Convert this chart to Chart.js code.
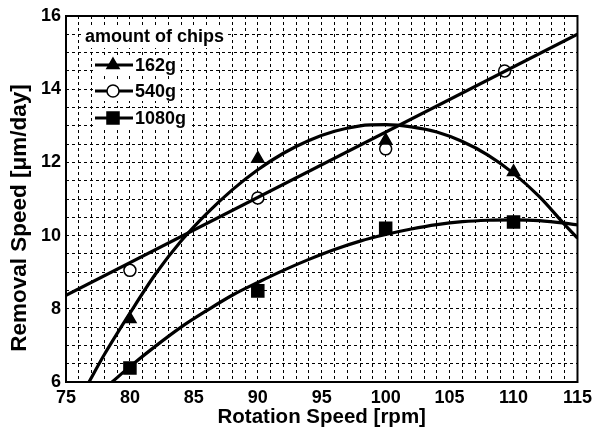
<!DOCTYPE html>
<html>
<head>
<meta charset="utf-8">
<script src="https://cdn.jsdelivr.net/npm/chart.js@4/dist/chart.umd.min.js"></script>
<style>
  html, body { margin: 0; padding: 0; background: #fff; }
  #chart { display: block; }
</style>
</head>
<body>
<canvas id="chart" width="597" height="430"></canvas>
<script>
// Datos
const legendTitle = 'amount of chips';
const seriesNames = ['162g', '540g', '1080g'];
const xTitle = 'Rotation Speed [rpm]';
const yTitle = 'Removal Speed [μm/day]';

const xTickLabels = [75, 80, 85, 90, 95, 100, 105, 110, 115];
const yTickLabels = [6, 8, 10, 12, 14, 16];

// puntos medidos
const speeds162 = [80, 90, 100, 110];
const values162 = [7.72, 12.1, 12.6, 11.74];
const speeds540 = [80, 90, 100, 109.3];
const values540 = [9.05, 11.03, 12.37, 14.5];
const speeds1080 = [80, 90, 100, 110];
const values1080 = [6.38, 8.49, 10.2, 10.37];

// curvas de ajuste
const fit162X = [76.8, 78, 80, 82, 84, 86, 88, 90, 92, 94, 96, 98, 100, 102, 104, 106, 108, 110, 112, 114, 115];
const fit162Y = [6.0, 6.75, 7.88, 8.95, 9.85, 10.6, 11.25, 11.8, 12.25, 12.6, 12.85, 13.0, 13.03, 12.97, 12.83, 12.57, 12.2, 11.7, 11.07, 10.3, 9.93];
const fit540X = [75, 115];
const fit540Y = [8.37, 15.5];
const fit1080X = [78.6, 80, 82, 84, 86, 88, 90, 92, 94, 96, 98, 100, 102, 104, 106, 108, 110, 112, 114, 115];
const fit1080Y = [6.0, 6.42, 6.98, 7.5, 7.95, 8.37, 8.72, 9.05, 9.35, 9.62, 9.85, 10.03, 10.18, 10.3, 10.38, 10.42, 10.43, 10.41, 10.34, 10.29];

const toPoints = (xs, ys) => xs.map((x, i) => ({ x: x, y: ys[i] }));

const FONT = '"Liberation Sans", Arial, sans-serif';

const markerStyles = [
    { pointStyle: 'triangle', radius: 7, fill: '#000' },
    { pointStyle: 'circle', radius: 6, fill: '#fff' },
    { pointStyle: 'rect', radius: 8.5, fill: '#000' }
];

function fitDataset(xs, ys) {
    return {
        data: toPoints(xs, ys),
        showLine: true,
        borderColor: '#000',
        borderWidth: 3.2,
        pointRadius: 0,
        cubicInterpolationMode: 'monotone',
        fill: false
    };
}

function markerDataset(xs, ys, idx) {
    const m = markerStyles[idx];
    return {
        label: seriesNames[idx],
        data: toPoints(xs, ys),
        showLine: false,
        pointStyle: m.pointStyle,
        pointRadius: m.radius,
        pointBackgroundColor: m.fill,
        pointBorderColor: '#000',
        pointBorderWidth: 1.5
    };
}

// Marco completo del area del grafico
const framePlugin = {
    id: 'frame',
    afterDatasetsDraw(chart) {
        const { ctx, chartArea: a } = chart;
        ctx.save();
        ctx.strokeStyle = '#000';
        ctx.lineWidth = 2;
        ctx.strokeRect(a.left, a.top, a.right - a.left, a.bottom - a.top);
        ctx.restore();
    }
};

// Titulo del eje Y (algo desplazado hacia abajo, como en el original)
const yTitlePlugin = {
    id: 'yTitle',
    afterDraw(chart) {
        const ctx = chart.ctx;
        ctx.save();
        ctx.translate(20, 218);
        ctx.rotate(-Math.PI / 2);
        ctx.font = 'bold 22.5px ' + FONT;
        ctx.fillStyle = '#000';
        ctx.textAlign = 'center';
        ctx.textBaseline = 'middle';
        ctx.fillText(yTitle, 0, 0);
        ctx.restore();
    }
};

// Leyenda dibujada dentro del area
const chipsLegend = {
    id: 'chipsLegend',
    afterDraw(chart) {
        const ctx = chart.ctx;
        ctx.save();
        ctx.font = 'bold 18px ' + FONT;
        ctx.textBaseline = 'middle';
        ctx.textAlign = 'left';

        // titulo
        let w = ctx.measureText(legendTitle).width;
        ctx.fillStyle = '#fff';
        ctx.fillRect(83, 26, w + 5, 22);
        ctx.fillStyle = '#000';
        ctx.fillText(legendTitle, 85, 37);

        const rows = [65, 91, 118];
        seriesNames.forEach((name, i) => {
            const y = rows[i];
            w = ctx.measureText(name).width;
            ctx.fillStyle = '#fff';
            ctx.fillRect(93, y - 10, 135 - 93 + w + 3, 20);

            ctx.strokeStyle = '#000';
            ctx.lineWidth = 3;
            ctx.beginPath();
            ctx.moveTo(95, y);
            ctx.lineTo(133, y);
            ctx.stroke();

            const m = markerStyles[i];
            ctx.fillStyle = m.fill;
            ctx.lineWidth = 1.5;
            Chart.helpers.drawPoint(ctx, {
                pointStyle: m.pointStyle,
                radius: m.radius,
                rotation: 0,
                borderWidth: 1.5
            }, 113, y);

            ctx.fillStyle = '#000';
            ctx.fillText(name, 135, y + 1);
        });
        ctx.restore();
    }
};

const tickFont = { family: FONT, size: 18, weight: 'bold' };

new Chart(document.getElementById('chart'), {
    type: 'scatter',
    data: {
        datasets: [
            fitDataset(fit162X, fit162Y),
            fitDataset(fit540X, fit540Y),
            fitDataset(fit1080X, fit1080Y),
            markerDataset(speeds162, values162, 0),
            markerDataset(speeds540, values540, 1),
            markerDataset(speeds1080, values1080, 2)
        ]
    },
    options: {
        responsive: false,
        animation: false,
        layout: { padding: { left: 0, right: 17, top: 16, bottom: 0 } },
        plugins: {
            legend: { display: false },
            tooltip: { enabled: false }
        },
        scales: {
            x: {
                type: 'linear',
                min: 75,
                max: 115,
                afterFit(scale) { scale.height = 48; },
                ticks: {
                    stepSize: 1,
                    autoSkip: false,
                    maxRotation: 0,
                    padding: 5,
                    color: '#000',
                    font: tickFont,
                    callback: v => xTickLabels.includes(v) ? String(v) : ''
                },
                grid: { color: '#000', lineWidth: 1, drawTicks: false },
                border: { display: false, dash: [3, 3] },
                title: {
                    display: true,
                    text: xTitle,
                    color: '#000',
                    font: { family: FONT, size: 20.5, weight: 'bold' },
                    padding: { top: 0, bottom: 0 }
                }
            },
            y: {
                type: 'linear',
                min: 6,
                max: 16,
                afterFit(scale) { scale.width = 66; },
                ticks: {
                    stepSize: 0.5,
                    autoSkip: false,
                    padding: 5,
                    color: '#000',
                    font: tickFont,
                    callback: v => yTickLabels.includes(v) ? String(v) : ''
                },
                grid: { color: '#000', lineWidth: 1, drawTicks: false },
                border: { display: false, dash: [3, 3] }
            }
        }
    },
    plugins: [framePlugin, yTitlePlugin, chipsLegend]
});
</script>
</body>
</html>
